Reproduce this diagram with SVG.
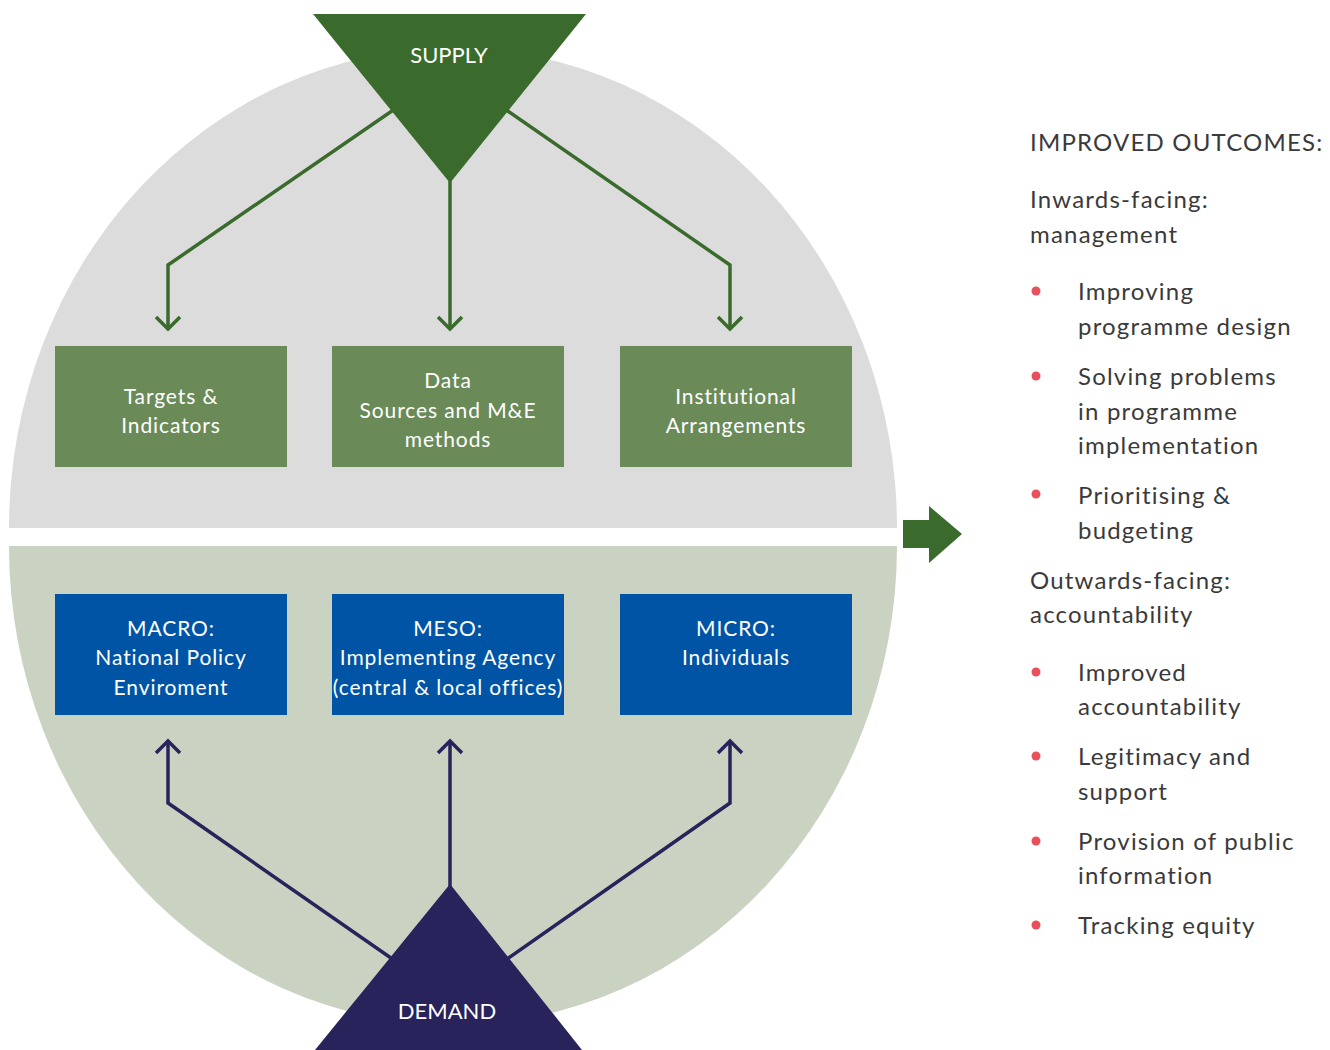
<svg xmlns="http://www.w3.org/2000/svg" width="1330" height="1050" viewBox="0 0 1330 1050">
<style>
.t{font-family:Lato,"Liberation Sans",sans-serif;}
.bt{font-family:Lato,"Liberation Sans",sans-serif;font-size:21px;letter-spacing:0.9px;fill:#ffffff;text-anchor:middle;}
.rt{font-family:Lato,"Liberation Sans",sans-serif;font-size:24px;letter-spacing:1.2px;fill:#3a3a3a;}
.sup{stroke:#3a6b2c;stroke-width:3.5;fill:none;stroke-linejoin:miter;}
.dem{stroke:#28235a;stroke-width:3.5;fill:none;stroke-linejoin:miter;}
.gb{fill:#6a8a58;}
.bb{fill:#0054a6;}
.bul{fill:#e8505b;}
</style>
<rect width="1330" height="1050" fill="#ffffff"/>
<g id="background">
<path d="M9,528 A444,480 0 0 1 897,528 Z" fill="#dcdcdc"/>
<path d="M9,546 A444,479 0 0 0 897,546 Z" fill="#cad3c1"/>
</g>
<g id="connectors">
<polyline class="sup" points="450,71 168,265 168,329"/>
<polyline class="sup" points="156,317 168,329 180,317"/>
<polyline class="sup" points="450,71 450,329"/>
<polyline class="sup" points="438,317 450,329 462,317"/>
<polyline class="sup" points="450,71 730,265 730,329"/>
<polyline class="sup" points="718,317 730,329 742,317"/>
<polyline class="dem" points="450,999 168,803 168,741"/>
<polyline class="dem" points="156,753 168,741 180,753"/>
<polyline class="dem" points="450,999 450,741"/>
<polyline class="dem" points="438,753 450,741 462,753"/>
<polyline class="dem" points="450,999 730,803 730,741"/>
<polyline class="dem" points="718,753 730,741 742,753"/>
</g>
<g id="supply">
<polygon points="313,14 586,14 450,183" fill="#3a6b2c"/>
<text class="t" x="449" y="63" font-size="22" fill="#ffffff" text-anchor="middle">SUPPLY</text>
</g>
<g id="demand">
<polygon points="450,884 582,1050 315,1050" fill="#28235a"/>
<text class="t" x="447" y="1019" font-size="22" fill="#ffffff" text-anchor="middle">DEMAND</text>
</g>
<g id="targets">
<rect class="gb" x="55" y="346" width="232" height="121"/>
<text class="bt" x="171" y="404">Targets &amp;</text>
<text class="bt" x="171" y="433">Indicators</text>
</g>
<g id="data">
<rect class="gb" x="332" y="346" width="232" height="121"/>
<text class="bt" x="448" y="388">Data</text>
<text class="bt" x="448" y="418">Sources and M&amp;E</text>
<text class="bt" x="448" y="447">methods</text>
</g>
<g id="institutional">
<rect class="gb" x="620" y="346" width="232" height="121"/>
<text class="bt" x="736" y="404">Institutional</text>
<text class="bt" x="736" y="433">Arrangements</text>
</g>
<g id="macro">
<rect class="bb" x="55" y="594" width="232" height="121"/>
<text class="bt" x="171" y="636">MACRO:</text>
<text class="bt" x="171" y="665">National Policy</text>
<text class="bt" x="171" y="695">Enviroment</text>
</g>
<g id="meso">
<rect class="bb" x="332" y="594" width="232" height="121"/>
<text class="bt" x="448" y="636">MESO:</text>
<text class="bt" x="448" y="665">Implementing Agency</text>
<text class="bt" x="448" y="695" letter-spacing="0.3">(central &amp; local offices)</text>
</g>
<g id="micro">
<rect class="bb" x="620" y="594" width="232" height="121"/>
<text class="bt" x="736" y="636">MICRO:</text>
<text class="bt" x="736" y="665">Individuals</text>
</g>
<g id="outcome-arrow">
<polygon points="903,520 929,520 929,506 962,534 929,563 929,548 903,548" fill="#3a6b2c"/>
</g>
<g id="outcomes">
<text class="rt" x="1030" y="151" letter-spacing="0.5">IMPROVED OUTCOMES:</text>
<text class="rt" x="1030" y="208">Inwards-facing:</text>
<text class="rt" x="1030" y="243">management</text>
<circle class="bul" cx="1036" cy="291" r="4.5"/>
<text class="rt" x="1078" y="300">Improving</text>
<text class="rt" x="1078" y="335">programme design</text>
<circle class="bul" cx="1036" cy="376" r="4.5"/>
<text class="rt" x="1078" y="385">Solving problems</text>
<text class="rt" x="1078" y="420">in programme</text>
<text class="rt" x="1078" y="454">implementation</text>
<circle class="bul" cx="1036" cy="494" r="4.5"/>
<text class="rt" x="1078" y="504">Prioritising &amp;</text>
<text class="rt" x="1078" y="539">budgeting</text>
<text class="rt" x="1030" y="589">Outwards-facing:</text>
<text class="rt" x="1030" y="623">accountability</text>
<circle class="bul" cx="1036" cy="672" r="4.5"/>
<text class="rt" x="1078" y="681">Improved</text>
<text class="rt" x="1078" y="715">accountability</text>
<circle class="bul" cx="1036" cy="756" r="4.5"/>
<text class="rt" x="1078" y="765">Legitimacy and</text>
<text class="rt" x="1078" y="800">support</text>
<circle class="bul" cx="1036" cy="841" r="4.5"/>
<text class="rt" x="1078" y="850">Provision of public</text>
<text class="rt" x="1078" y="884">information</text>
<circle class="bul" cx="1036" cy="925" r="4.5"/>
<text class="rt" x="1078" y="934">Tracking equity</text>
</g>
</svg>
